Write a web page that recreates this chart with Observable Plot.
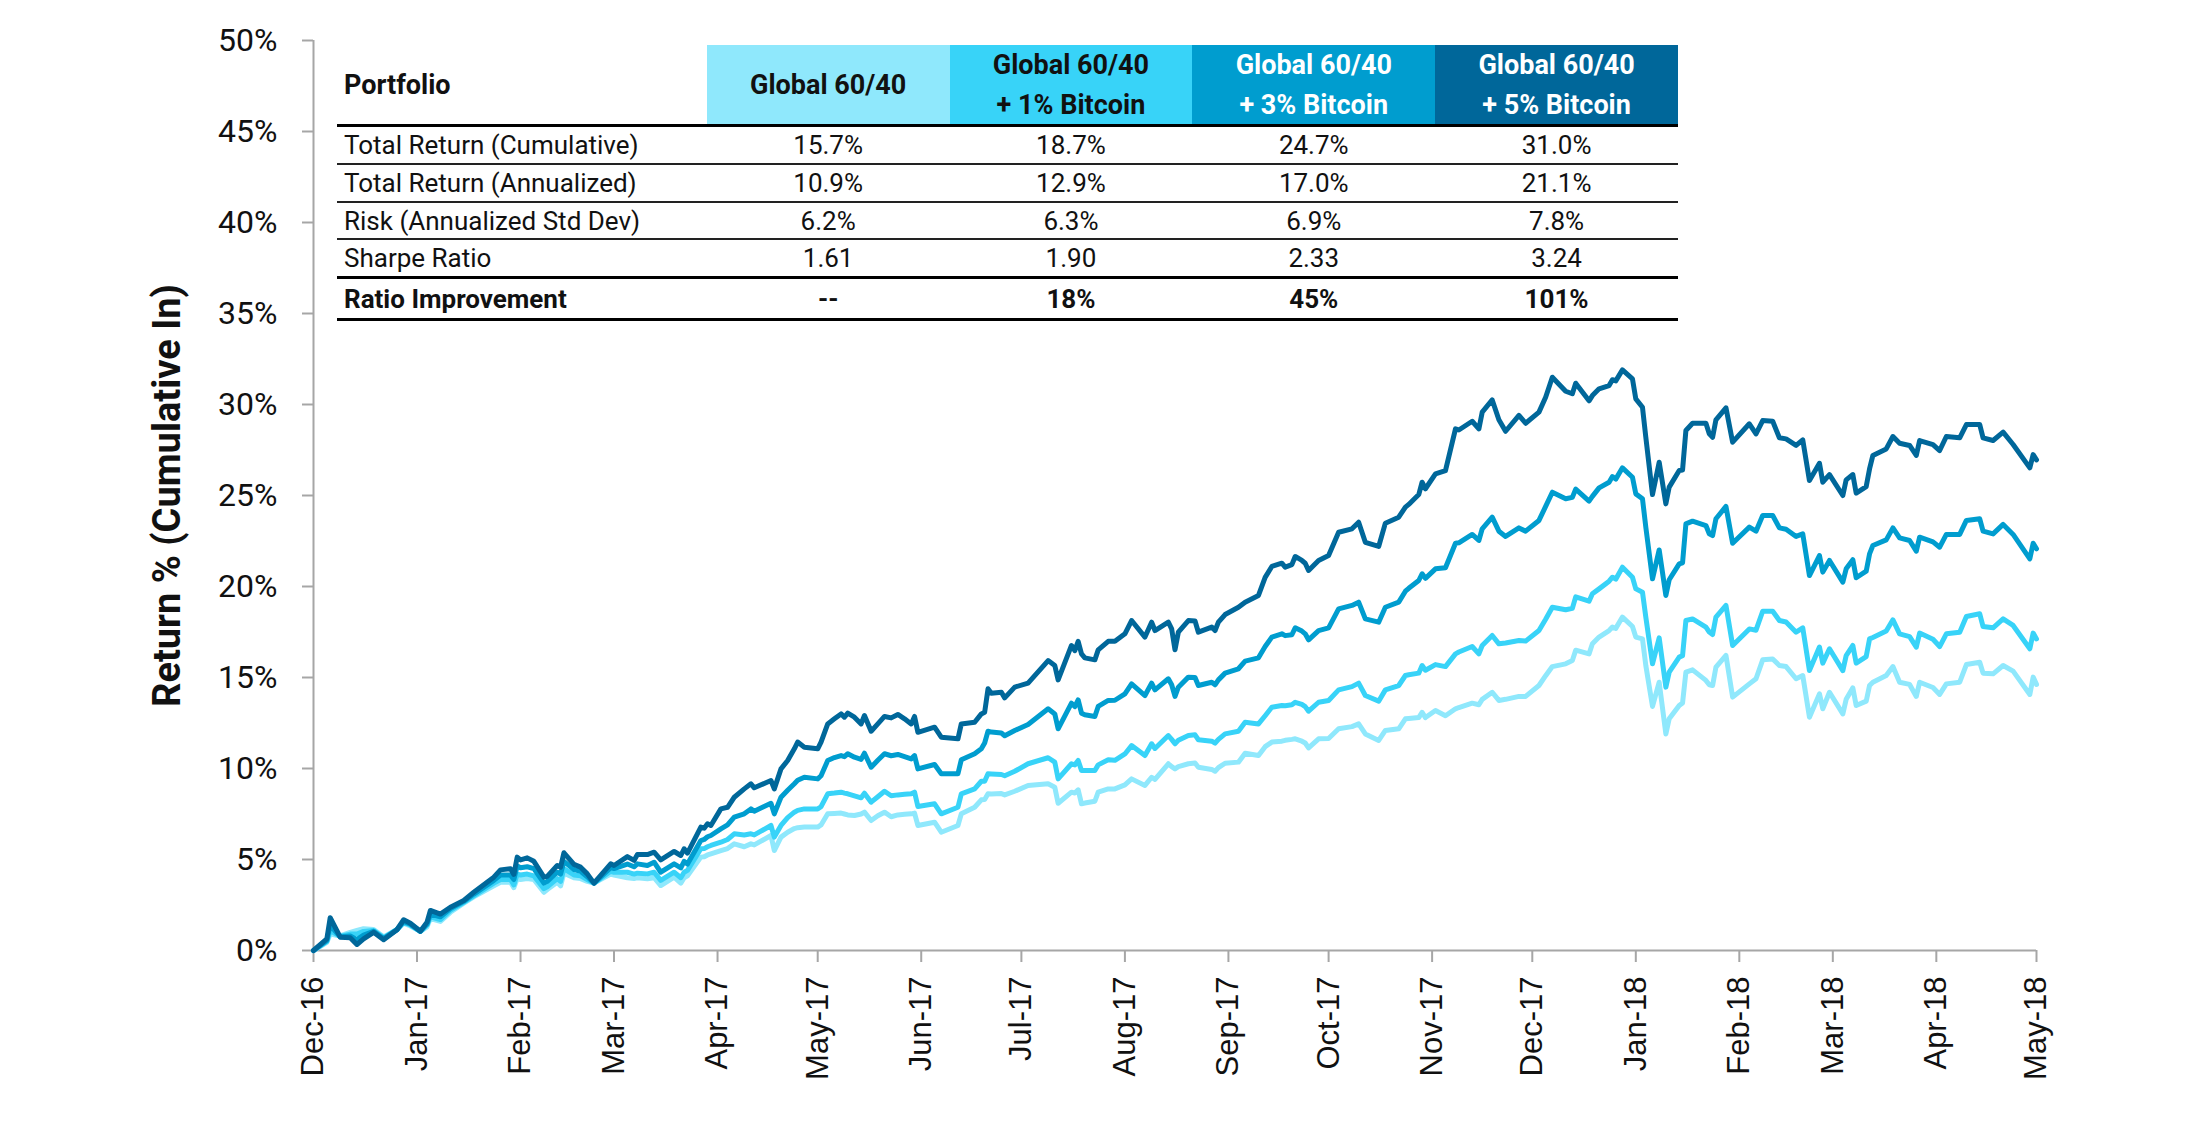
<!DOCTYPE html>
<html>
<head>
<meta charset="utf-8">
<script src="https://cdn.jsdelivr.net/npm/d3@7"></script>
<script src="https://cdn.jsdelivr.net/npm/@observablehq/plot@0.6"></script>
<style>
  html, body { margin: 0; padding: 0; background: #fff; overflow: hidden; }
  #wrap { position: relative; width: 2186px; height: 1123px; }
  #tbl { position: absolute; left: 337px; top: 45px; width: 1341px; font-family: Roboto, sans-serif; color: #111; font-size: 26px; }
  .row { display: flex; box-sizing: border-box; }
  .hdr { height: 82px; border-bottom: 3px solid #000; }
  .r1 { height: 38px; border-bottom: 2px solid #222; }
  .r2 { height: 38px; border-bottom: 2px solid #222; }
  .r3 { height: 37px; border-bottom: 2px solid #222; }
  .r4 { height: 39px; border-bottom: 3px solid #000; }
  .r5 { height: 42px; border-bottom: 3px solid #000; font-weight: 700; }
  .c0 { width: 370px; padding-left: 7px; box-sizing: border-box; display: flex; align-items: center; }
  .c { width: 243px; display: flex; align-items: center; justify-content: center; text-align: center; }
  .hdr .c0, .hdr .c { font-weight: 700; font-size: 27px; line-height: 40px; }
</style>
</head>
<body>
<div id="wrap"><div id="tbl"></div></div>
<script>
// ---------------- DATA ----------------
const seriesNames = ["Global 60/40", "Global 60/40 + 1% Bitcoin", "Global 60/40 + 3% Bitcoin", "Global 60/40 + 5% Bitcoin"];

const dates = [
"2016-12-01","2016-12-05","2016-12-06","2016-12-09","2016-12-12","2016-12-14","2016-12-16","2016-12-19","2016-12-22","2016-12-26",
"2016-12-28","2016-12-30","2017-01-02","2017-01-04","2017-01-05","2017-01-08","2017-01-11","2017-01-15","2017-01-18","2017-01-24",
"2017-01-26","2017-01-29","2017-01-30","2017-01-31","2017-02-01","2017-02-03","2017-02-05","2017-02-08","2017-02-09","2017-02-12",
"2017-02-13","2017-02-14","2017-02-17","2017-02-19","2017-02-21","2017-02-23","2017-02-28","2017-03-01","2017-03-05","2017-03-07",
"2017-03-08","2017-03-11","2017-03-13","2017-03-15","2017-03-19","2017-03-21","2017-03-22","2017-03-23","2017-03-27","2017-03-28",
"2017-03-29","2017-03-30","2017-04-02","2017-04-04","2017-04-06","2017-04-09","2017-04-11","2017-04-12","2017-04-17","2017-04-18",
"2017-04-20","2017-04-22","2017-04-24","2017-04-25","2017-04-27","2017-05-01","2017-05-02","2017-05-04","2017-05-06","2017-05-08",
"2017-05-09","2017-05-10","2017-05-12","2017-05-14","2017-05-15","2017-05-17","2017-05-19","2017-05-21","2017-05-23","2017-05-25",
"2017-05-27","2017-05-29","2017-05-30","2017-05-31","2017-06-05","2017-06-07","2017-06-12","2017-06-13","2017-06-17","2017-06-19",
"2017-06-20","2017-06-21","2017-06-22","2017-06-25","2017-06-26","2017-06-29","2017-07-03","2017-07-09","2017-07-11","2017-07-12",
"2017-07-16","2017-07-17","2017-07-18","2017-07-19","2017-07-20","2017-07-23","2017-07-24","2017-07-27","2017-07-29","2017-08-01",
"2017-08-03","2017-08-07","2017-08-09","2017-08-10","2017-08-14","2017-08-15","2017-08-16","2017-08-17","2017-08-20","2017-08-22",
"2017-08-23","2017-08-27","2017-08-28","2017-08-29","2017-08-31","2017-09-04","2017-09-06","2017-09-10","2017-09-12","2017-09-14",
"2017-09-17","2017-09-18","2017-09-20","2017-09-21","2017-09-23","2017-09-24","2017-09-25","2017-09-28","2017-10-01","2017-10-04",
"2017-10-08","2017-10-10","2017-10-12","2017-10-16","2017-10-18","2017-10-22","2017-10-24","2017-10-25","2017-10-28","2017-10-29",
"2017-10-30","2017-11-02","2017-11-05","2017-11-08","2017-11-09","2017-11-13","2017-11-15","2017-11-16","2017-11-19","2017-11-21",
"2017-11-23","2017-11-27","2017-11-29","2017-12-03","2017-12-05","2017-12-07","2017-12-11","2017-12-13","2017-12-14","2017-12-18",
"2017-12-19","2017-12-21","2017-12-24","2017-12-25","2017-12-26","2017-12-28","2017-12-31","2018-01-01","2018-01-03","2018-01-04",
"2018-01-06","2018-01-08","2018-01-10","2018-01-11","2018-01-14","2018-01-15","2018-01-16","2018-01-18","2018-01-22","2018-01-23",
"2018-01-24","2018-01-25","2018-01-28","2018-01-30","2018-02-04","2018-02-06","2018-02-08","2018-02-11","2018-02-13","2018-02-15",
"2018-02-18","2018-02-20","2018-02-22","2018-02-25","2018-02-26","2018-02-28","2018-03-04","2018-03-05","2018-03-07","2018-03-08",
"2018-03-11","2018-03-12","2018-03-13","2018-03-17","2018-03-19","2018-03-21","2018-03-24","2018-03-26","2018-03-27","2018-03-31",
"2018-04-02","2018-04-04","2018-04-08","2018-04-10","2018-04-14","2018-04-15","2018-04-18","2018-04-21","2018-04-24","2018-04-29",
"2018-04-30","2018-05-01"
];

// Global 60/40 (cumulative return, %)
const global6040 = [
0,0.45,0.9,0.8,1.0,1.1,1.2,1.15,0.75,1.15,
1.5,1.35,1.05,1.3,1.75,1.6,2.1,2.6,2.95,3.55,
3.75,3.75,3.45,3.95,3.9,3.95,3.9,3.2,3.35,3.75,
3.55,4.25,4.0,3.95,3.8,3.7,4.2,4.15,4.0,3.95,
4.0,3.94,4.0,3.57,4.03,3.7,4.0,4.1,5.13,5.15,
5.25,5.31,5.49,5.6,5.86,5.7,5.86,5.8,6.32,5.49,
6.23,6.5,6.7,6.75,6.78,6.78,6.9,7.51,7.53,7.55,
7.5,7.45,7.42,7.5,7.6,7.14,7.4,7.6,7.35,7.45,
7.48,7.51,7.55,6.87,7.05,6.5,6.87,7.51,7.87,8.28,
8.3,8.61,8.6,8.62,8.55,8.75,9.07,9.16,8.97,8.09,
8.7,8.65,8.83,8.06,8.1,8.2,8.7,8.88,8.88,9.1,
9.43,9.07,9.52,9.4,10.26,10.1,9.98,10.1,10.26,10.3,
10.07,9.95,9.85,10.05,10.29,10.35,10.84,10.71,11.2,11.45,
11.5,11.55,11.6,11.63,11.5,11.4,11.13,11.63,11.65,12.18,
12.3,12.45,11.9,11.54,12.09,12.18,12.73,12.75,12.8,13.09,
12.8,13.19,12.9,13.28,13.35,13.59,13.5,13.8,14.19,13.74,
13.8,13.96,13.96,14.56,15.1,15.6,15.75,15.93,16.5,16.3,
16.85,17.22,17.58,17.77,17.7,18.32,17.8,17.22,17.12,15.66,
13.41,14.74,11.9,12.73,13.46,13.6,15.29,15.42,14.84,14.6,
14.56,15.57,16.21,13.92,14.65,14.93,15.97,16.02,15.66,15.6,
14.93,15.11,12.82,14.1,13.28,14.19,13.0,13.8,14.43,13.46,
13.7,14.56,14.74,15.11,15.6,14.74,14.62,13.96,14.74,14.45,
14.07,14.65,14.74,15.71,15.84,15.24,15.2,15.66,15.35,14.07,
15.02,14.62
];

// Global 60/40 + 1% Bitcoin
const btc1 = [
0,0.5,1.1,0.78,0.9,0.9,1.05,1.1,0.7,1.15,
1.55,1.4,1.05,1.4,1.85,1.7,2.2,2.65,3.0,3.7,
3.9,3.9,3.6,4.2,4.15,4.2,4.1,3.4,3.5,3.95,
3.8,4.5,4.15,4.1,3.9,3.7,4.35,4.3,4.3,4.2,
4.25,4.21,4.3,3.85,4.3,4.0,4.3,4.4,5.59,5.6,
5.7,5.77,5.95,6.1,6.41,6.35,6.41,6.35,6.87,6.23,
6.87,7.3,7.6,7.7,7.78,7.78,7.9,8.61,8.65,8.7,
8.65,8.61,8.5,8.39,8.64,8.15,8.45,8.75,8.5,8.55,
8.58,8.61,8.7,7.91,8.06,7.51,7.87,8.61,8.88,9.3,
9.3,9.71,9.7,9.67,9.6,9.85,10.26,10.59,10.35,9.43,
10.26,10.2,10.44,9.89,9.89,9.89,10.2,10.48,10.45,10.8,
11.26,10.71,11.36,11.1,11.81,11.6,11.36,11.55,11.81,11.85,
11.58,11.5,11.39,11.6,11.9,12.05,12.54,12.45,12.9,13.37,
13.46,13.45,13.5,13.64,13.52,13.4,13.15,13.64,13.74,14.32,
14.5,14.69,14.01,13.7,14.32,14.56,15.11,15.15,15.24,15.66,
15.4,15.71,15.6,16.3,16.4,16.7,16.3,16.76,17.31,16.85,
16.9,17.03,17.0,17.58,18.2,18.86,18.72,18.8,19.43,19.19,
19.6,19.87,20.29,20.51,20.4,21.06,20.51,19.87,19.69,18.32,
15.75,17.18,14.47,15.29,16.12,16.2,18.13,18.22,17.77,17.5,
17.36,18.32,18.96,16.76,17.67,17.6,18.64,18.64,18.13,18.05,
17.49,17.73,15.38,16.67,15.79,16.58,15.38,16.2,16.76,15.79,
16.15,17.12,17.2,17.55,18.17,17.4,17.25,16.67,17.44,17.1,
16.7,17.4,17.49,18.35,18.5,17.8,17.73,18.22,17.86,16.58,
17.44,17.12
];

// Global 60/40 + 3% Bitcoin
const btc3 = [
0,0.55,1.4,0.75,0.8,0.6,0.85,1.05,0.65,1.15,
1.6,1.45,1.05,1.45,2.0,1.85,2.3,2.7,3.1,3.85,
4.15,4.15,3.9,4.65,4.55,4.6,4.5,3.7,3.8,4.3,
4.2,4.9,4.45,4.35,4.05,3.7,4.55,4.5,4.75,4.6,
4.76,4.67,4.85,4.3,4.76,4.54,4.9,4.75,6.04,6.1,
6.25,6.32,6.68,6.9,7.33,7.51,7.78,7.65,8.09,7.51,
8.42,8.8,9.16,9.35,9.52,9.43,9.6,10.44,10.6,10.71,
10.65,10.81,10.62,10.5,10.84,10.07,10.45,10.81,10.7,10.77,
10.65,10.53,10.71,9.98,10.22,9.71,9.71,10.48,10.81,11.08,
11.4,12.05,12.0,11.95,11.8,12.09,12.42,13.28,13.0,12.18,
13.59,13.4,13.77,13.04,12.95,12.86,13.41,13.74,13.75,14.1,
14.65,14.01,14.69,14.32,14.93,14.6,13.96,14.47,15.02,15.0,
14.56,14.74,14.6,14.87,15.24,15.48,15.9,16.08,16.7,17.22,
17.4,17.3,17.35,17.73,17.55,17.4,17.07,17.58,17.73,18.77,
18.96,19.14,18.22,18.04,18.86,19.14,19.74,19.9,20.33,20.7,
20.45,20.97,21.03,22.38,22.4,22.86,22.53,23.17,23.81,23.04,
22.75,23.22,23.04,23.63,24.4,25.18,24.82,24.9,25.35,24.69,
24.95,25.42,25.73,26.04,25.9,26.52,26.0,25.09,24.82,23.26,
20.42,22.01,19.51,20.37,21.24,21.3,23.44,23.59,23.35,22.9,
22.8,23.72,24.4,22.38,23.26,23.04,23.9,23.9,23.22,23.15,
22.75,22.89,20.6,21.7,20.79,21.43,20.24,20.97,21.47,20.48,
20.84,21.79,22.25,22.56,23.22,22.67,22.53,21.94,22.71,22.45,
22.16,22.86,22.86,23.63,23.72,23.04,22.89,23.41,22.86,21.52,
22.38,22.07
];

// Global 60/40 + 5% Bitcoin
const btc5 = [
0,0.64,1.8,0.73,0.7,0.33,0.64,1.0,0.59,1.14,
1.69,1.5,1.06,1.56,2.2,2.0,2.38,2.75,3.2,4.03,
4.43,4.49,4.18,5.13,4.98,5.09,4.9,4.03,4.07,4.67,
4.58,5.37,4.73,4.58,4.21,3.7,4.76,4.67,5.16,4.95,
5.27,5.27,5.4,4.98,5.44,5.22,5.59,5.35,6.78,6.72,
6.96,6.87,7.78,7.87,8.42,8.88,9.16,8.94,9.34,8.88,
9.98,10.44,11.08,11.45,11.17,11.08,11.45,12.45,12.73,13.0,
12.82,13.04,12.82,12.45,12.91,12.05,12.45,12.86,12.78,12.97,
12.73,12.45,12.86,11.99,12.27,11.72,11.63,12.45,12.54,13.0,
13.09,14.38,14.14,14.19,13.88,14.47,14.69,15.93,15.66,14.87,
16.76,16.48,16.99,16.3,16.08,15.97,16.52,16.99,16.99,17.4,
18.13,17.22,18.04,17.58,18.04,17.67,16.52,17.49,18.13,18.1,
17.49,17.77,17.58,18.04,18.46,18.86,19.14,19.51,20.5,21.1,
21.28,21.06,21.2,21.65,21.43,21.28,20.88,21.43,21.7,22.98,
23.17,23.53,22.43,22.2,23.48,23.81,24.36,24.51,25.05,25.73,
25.37,26.19,26.37,28.66,28.6,29.08,28.66,29.58,30.25,29.16,
28.53,29.4,28.97,29.58,30.4,31.5,30.73,30.59,31.17,30.2,
30.49,30.86,31.04,31.36,31.3,31.9,31.41,30.31,29.85,28.2,
25.05,26.83,24.54,25.46,26.37,26.4,28.57,28.97,28.97,28.39,
28.2,29.16,29.82,27.93,28.94,28.39,29.12,29.08,28.17,28.11,
27.75,28.06,25.82,26.77,25.73,26.15,25.0,25.86,26.15,25.13,
25.49,26.46,27.2,27.56,28.24,27.87,27.75,27.2,28.02,27.8,
27.47,28.24,28.17,28.9,28.9,28.17,28.02,28.48,27.8,26.52,
27.25,26.96
];

const yTicks = [0, 5, 10, 15, 20, 25, 30, 35, 40, 45, 50];
const xTickDates = ["2016-12-01","2017-01-01","2017-02-01","2017-03-01","2017-04-01","2017-05-01","2017-06-01","2017-07-01","2017-08-01","2017-09-01","2017-10-01","2017-11-01","2017-12-01","2018-01-01","2018-02-01","2018-03-01","2018-04-01","2018-05-01"];
const xTickLabels = ["Dec-16","Jan-17","Feb-17","Mar-17","Apr-17","May-17","Jun-17","Jul-17","Aug-17","Sep-17","Oct-17","Nov-17","Dec-17","Jan-18","Feb-18","Mar-18","Apr-18","May-18"];
const yTitle = "Return % (Cumulative In)";

// Table
const tableCorner = "Portfolio";
const tableHeaders = [["Global 60/40"], ["Global 60/40", "+ 1% Bitcoin"], ["Global 60/40", "+ 3% Bitcoin"], ["Global 60/40", "+ 5% Bitcoin"]];
const tableRowLabels = ["Total Return (Cumulative)", "Total Return (Annualized)", "Risk (Annualized Std Dev)", "Sharpe Ratio", "Ratio Improvement"];
const tableValues = [
  ["15.7%", "18.7%", "24.7%", "31.0%"],
  ["10.9%", "12.9%", "17.0%", "21.1%"],
  ["6.2%", "6.3%", "6.9%", "7.8%"],
  ["1.61", "1.90", "2.33", "3.24"],
  ["--", "18%", "45%", "101%"]
];

// ---------------- STYLE ----------------
const seriesColors = ["#8fe8fc", "#38d3f8", "#009dcf", "#00679a"];
const headerText = ["#111", "#111", "#fff", "#fff"];
const axisGray = "#a6a6a6";

// ---------------- CHART ----------------
const parseDate = d3.utcParse("%Y-%m-%d");
const seriesValues = [global6040, btc1, btc3, btc5];
const rows = [];
seriesNames.forEach((name, s) => {
  dates.forEach((d, i) => rows.push({date: parseDate(d), value: seriesValues[s][i], series: name}));
});
const tickDates = xTickDates.map(parseDate);
const tickLabelFor = d => xTickLabels[tickDates.findIndex(t => +t === +d)];

const chart = Plot.plot({
  width: 2186,
  height: 1123,
  marginLeft: 313,
  marginRight: 150,
  marginTop: 40,
  marginBottom: 173,
  style: {background: "#fff", fontFamily: "Roboto"},
  x: {type: "utc", domain: [tickDates[0], tickDates[tickDates.length - 1]]},
  y: {domain: [0, 50]},
  color: {domain: seriesNames, range: seriesColors},
  marks: [
    Plot.axisY({ticks: yTicks, tickFormat: d => d + "%", tickSize: 11, tickPadding: 25, fontSize: 32, fontFamily: "Roboto", fill: "#111", stroke: axisGray, strokeWidth: 2, label: null}),
    Plot.axisX({ticks: tickDates, tickFormat: tickLabelFor, tickRotate: -90, tickSize: 12, tickPadding: 14, fontSize: 31, fontFamily: "Liberation Sans, Arial, sans-serif", fill: "#111", stroke: axisGray, strokeWidth: 2, label: null}),
    Plot.ruleX([tickDates[0]], {stroke: axisGray, strokeWidth: 2}),
    Plot.ruleY([0], {stroke: axisGray, strokeWidth: 2}),
    Plot.line(rows, {x: "date", y: "value", z: "series", stroke: "series", strokeWidth: 5, strokeLinejoin: "round"}),
    Plot.text([yTitle], {frameAnchor: "left", textAnchor: "middle", lineAnchor: "middle", dx: -146, rotate: -90, fontSize: 38, fontWeight: "bold", fontFamily: "Roboto", fill: "#111"})
  ]
});
const wrap = document.getElementById("wrap");
wrap.insertBefore(chart, wrap.firstChild);

// ---------------- TABLE ----------------
const tbl = document.getElementById("tbl");
const rowClasses = ["r1", "r2", "r3", "r4", "r5"];
let html = `<div class="row hdr"><div class="c0">${tableCorner}</div>`;
tableHeaders.forEach((lines, j) => {
  html += `<div class="c" style="background:${seriesColors[j]};color:${headerText[j]}"><div>${lines.join("<br>")}</div></div>`;
});
html += `</div>`;
tableRowLabels.forEach((label, i) => {
  html += `<div class="row ${rowClasses[i]}"><div class="c0">${label}</div>`;
  tableValues[i].forEach(v => { html += `<div class="c">${v}</div>`; });
  html += `</div>`;
});
tbl.innerHTML = html;
</script>
</body>
</html>
